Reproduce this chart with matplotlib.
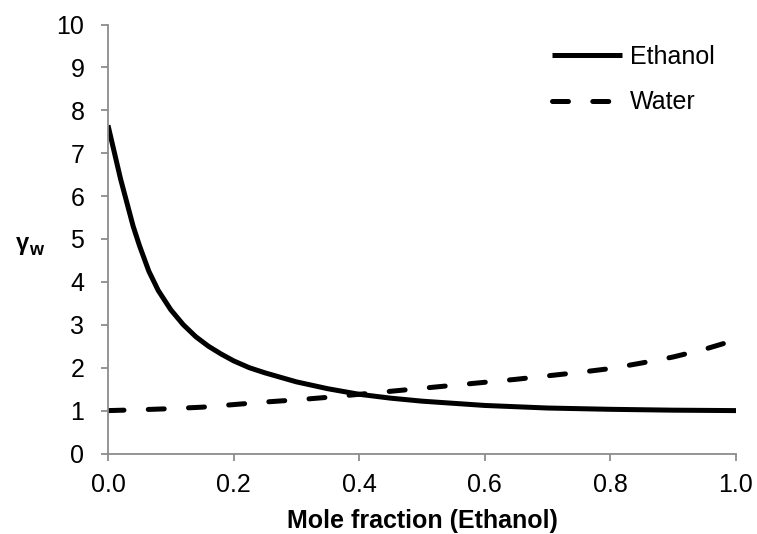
import matplotlib
matplotlib.use("Agg")
import matplotlib.pyplot as plt

plt.rcParams['font.family'] = ['Liberation Sans', 'DejaVu Sans']
plt.rcParams['lines.scale_dashes'] = False

# Activity coefficients vs. ethanol mole fraction
ethanol_x = [0.0, 0.02, 0.03, 0.04, 0.05, 0.065, 0.08, 0.10, 0.12, 0.14, 0.16, 0.18,
             0.20, 0.225, 0.25, 0.30, 0.35, 0.40, 0.45, 0.50, 0.55, 0.60, 0.65, 0.70,
             0.80, 0.90, 1.00]
ethanol_gamma = [7.65, 6.40, 5.85, 5.30, 4.85, 4.25, 3.80, 3.35, 3.00, 2.72, 2.50, 2.32,
                 2.16, 2.00, 1.88, 1.67, 1.51, 1.38, 1.29, 1.22, 1.17, 1.12, 1.09, 1.06,
                 1.03, 1.01, 1.00]

water_x = [0.0, 0.05, 0.10, 0.15, 0.20, 0.25, 0.30, 0.35, 0.40, 0.45, 0.50, 0.55,
           0.60, 0.65, 0.70, 0.75, 0.80, 0.85, 0.90, 0.95, 1.00]
water_gamma = [1.00, 1.02, 1.045, 1.08, 1.14, 1.20, 1.25, 1.31, 1.38, 1.45, 1.52, 1.59,
               1.66, 1.73, 1.81, 1.89, 1.98, 2.11, 2.25, 2.43, 2.65]

x_ticks = [0.0, 0.2, 0.4, 0.6, 0.8, 1.0]
x_tick_labels = ["0.0", "0.2", "0.4", "0.6", "0.8", "1.0"]
y_ticks = list(range(0, 11))

W, H = 757, 534
fig = plt.figure(figsize=(W / 100, H / 100), dpi=100)
ax = fig.add_axes([108 / W, 1 - 453.5 / H, (736 - 108) / W, (453.5 - 24.5) / H])

lw = 3.6
ax.plot(ethanol_x, ethanol_gamma, color='black', lw=lw, solid_capstyle='butt',
        label='Ethanol')
ax.plot(water_x, water_gamma, color='black', lw=lw, dash_capstyle='round',
        dashes=(11.5, 17.5), label='Water')

ax.set_xlim(0, 1)
ax.set_ylim(0, 10)
ax.set_xticks(x_ticks)
ax.set_xticklabels(x_tick_labels)
ax.set_yticks(y_ticks)

grey = '#8c8c8c'
fs = 18
for side in ('top', 'right'):
    ax.spines[side].set_visible(False)
for side in ('left', 'bottom'):
    ax.spines[side].set_color(grey)
    ax.spines[side].set_linewidth(1.3)
ax.tick_params(axis='both', direction='out', length=5, width=1.3, color=grey,
               labelsize=fs, labelcolor='black')
ax.tick_params(axis='x', pad=9)
ax.tick_params(axis='y', pad=12)

ax.set_xlabel('Mole fraction (Ethanol)', fontsize=fs, fontweight='bold', labelpad=8.5)

# y-axis label: gamma with subscript w
fig.text(16 / W, 1 - 250 / H, 'γ', fontsize=17, fontweight='bold', ha='left',
         va='baseline')
fig.text(29 / W, 1 - 255 / H, 'w', fontsize=13, fontweight='bold', ha='left',
         va='baseline')

leg = ax.legend(loc='upper left', bbox_to_anchor=(552 / W, 1 - 45 / H),
                bbox_transform=fig.transFigure, frameon=False, fontsize=fs,
                handlelength=2.8, handletextpad=0.32, labelspacing=0.85,
                borderaxespad=0, borderpad=0)

fig.savefig('out.png', dpi=100)
